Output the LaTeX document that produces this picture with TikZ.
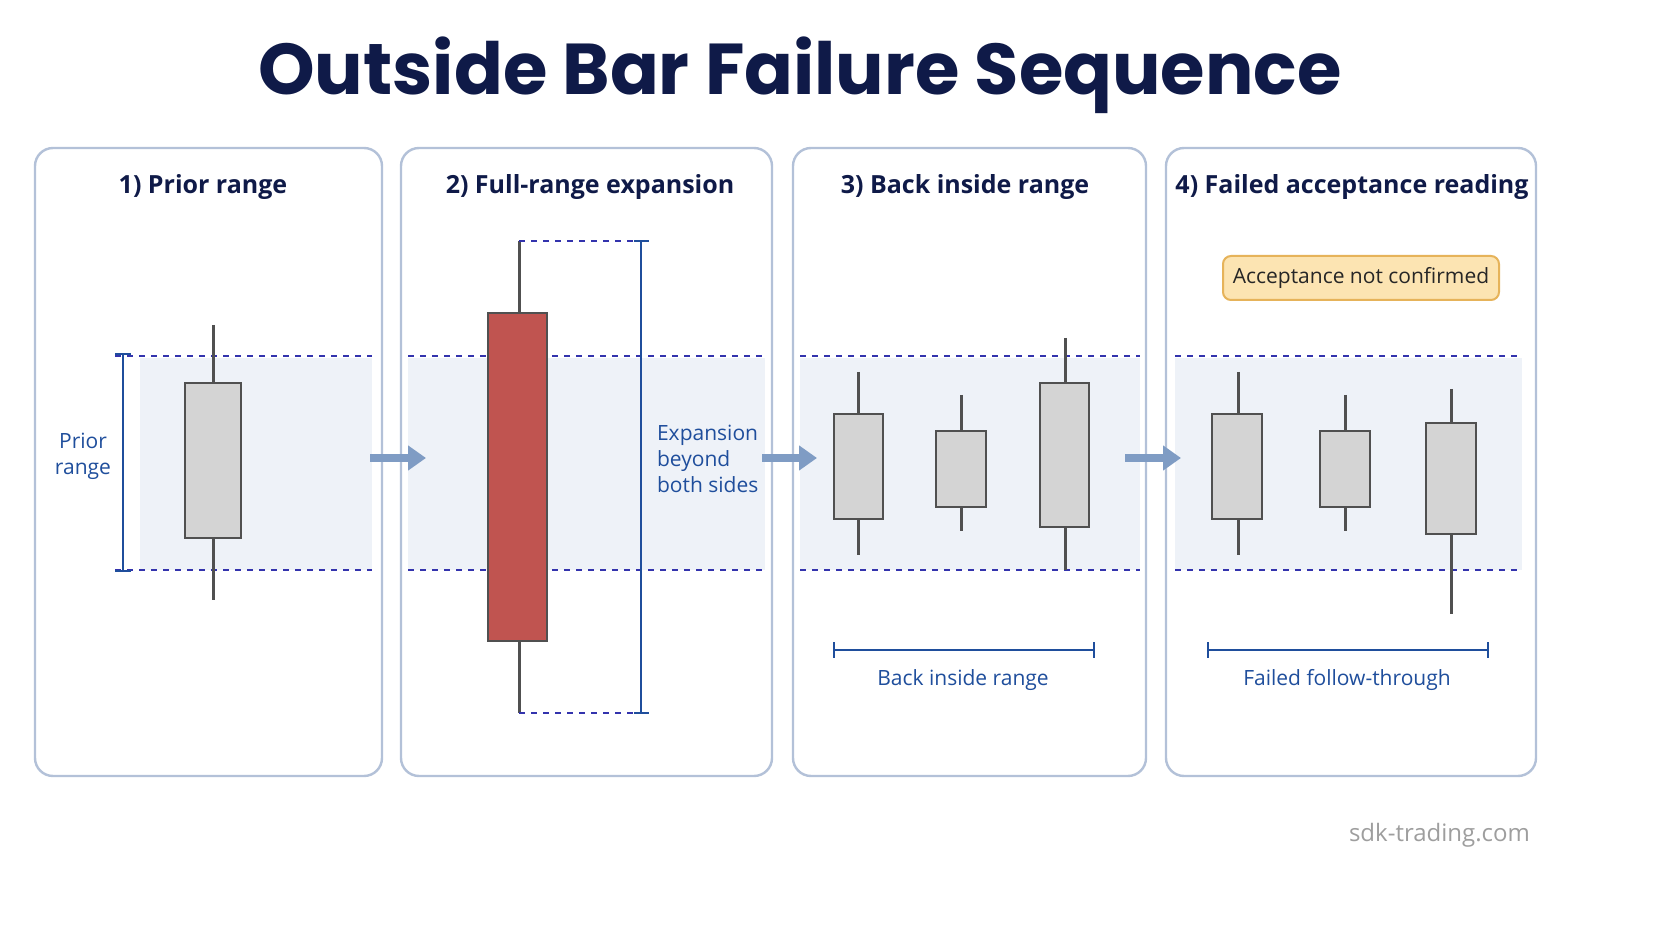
\documentclass[tikz,border=0pt]{standalone}
\usepackage{fontspec}
\setmainfont{Open Sans}
\newfontfamily\titlefont{Poppins}
\usetikzlibrary{arrows.meta}
\begin{document}
\begin{tikzpicture}[x=0.5pt,y=-0.5pt,
  panel/.style={draw=panelc,line width=1.2pt,rounded corners=9pt,fill=white},
  ptitle/.style={font=\fontsize{12.5}{15}\selectfont\bfseries,text=navy},
  band/.style={fill=bandc,draw=none},
  dline/.style={draw=blue!60!black!80,dashed,line width=0.7pt},
  wick/.style={draw=wickc,line width=1.5pt},
  body/.style={draw=wickc,line width=1.2pt,fill=grayc},
  brk/.style={draw=bluec,line width=1.4pt},
  lbl/.style={text=bluec,font=\fontsize{10.5}{13}\selectfont},
  flow/.style={draw=arrc,line width=4pt,-{Triangle[length=9pt,width=12pt]}}]
\definecolor{panelc}{HTML}{B3C1D8}
\definecolor{navy}{HTML}{0F1A48}
\definecolor{bandc}{HTML}{EEF2F8}
\definecolor{wickc}{HTML}{505050}
\definecolor{grayc}{HTML}{D4D4D4}
\definecolor{bluec}{HTML}{1F4E9C}
\definecolor{arrc}{HTML}{7F9CC4}
\definecolor{redc}{HTML}{C05450}
\definecolor{badgef}{HTML}{FCE4B2}
\definecolor{badged}{HTML}{E6B35A}
\useasboundingbox[fill=white] (0,0) rectangle (1672,941);
\node[font=\titlefont\fontsize{36}{40}\selectfont\bfseries,text=navy] (title) at (800,75) {Outside Bar Failure Sequence};
% panels
\draw[panel] (35,148) rectangle (382,776);
\draw[panel] (401,148) rectangle (772,776);
\draw[panel] (793,148) rectangle (1146,776);
\draw[panel] (1166,148) rectangle (1536,776);
\node[ptitle] (t1) at (203,187) {1) Prior range};
\node[ptitle] (t2) at (590,187) {2) Full-range expansion};
\node[ptitle] (t3) at (965,187) {3) Back inside range};
\node[ptitle] (t4) at (1352,187) {4) Failed acceptance reading};
% bands
\fill[band] (140,358) rectangle (372,570);
\fill[band] (408,358) rectangle (765,570);
\fill[band] (800,358) rectangle (1140,570);
\fill[band] (1175,358) rectangle (1522,570);
\foreach \a/\b in {115/372,408/765,800/1140,1175/1522}{
  \draw[dline] (\a,356) -- (\b,356); \draw[dline] (\a,570) -- (\b,570);}
% panel 1
\draw[brk] (123,354) -- (123,571) (115,354) -- (131,354) (115,571) -- (131,571);
\node[lbl,align=center] (l1) at (83,456) {Prior\\range};
\draw[wick] (213,325) -- (213,600);
\draw[body] (185,383) rectangle (241,538);
% panel 2
\draw[wick] (519,241) -- (519,713);
\draw[body,fill=redc] (488,313) rectangle (547,641);
\draw[dline] (519,241) -- (641,241) (519,713) -- (641,713);
\draw[brk] (641,241) -- (641,713) (634,241) -- (649,241) (634,713) -- (649,713);
\node[lbl,align=left,anchor=west] (l2) at (650,459) {Expansion\\beyond\\both sides};
% panel 3
\draw[wick] (858,372) -- (858,555); \draw[body] (834,414) rectangle (883,519);
\draw[wick] (961,395) -- (961,531); \draw[body] (936,431) rectangle (986,507);
\draw[wick] (1065,338) -- (1065,570); \draw[body] (1040,383) rectangle (1089,527);
\draw[brk] (834,650) -- (1094,650) (834,642) -- (834,658) (1094,642) -- (1094,658);
\node[lbl] (l3) at (963,680) {Back inside range};
% panel 4
\node[draw=badged,line width=1pt,fill=badgef,rounded corners=4pt,minimum width=138pt,minimum height=22pt,font=\fontsize{10.5}{13}\selectfont,text=black!85] (badge) at (1361,278) {Acceptance not confirmed};
\draw[wick] (1238,372) -- (1238,555); \draw[body] (1212,414) rectangle (1262,519);
\draw[wick] (1345,395) -- (1345,531); \draw[body] (1320,431) rectangle (1370,507);
\draw[wick] (1451,389) -- (1451,614); \draw[body] (1426,423) rectangle (1476,534);
\draw[brk] (1208,650) -- (1488,650) (1208,642) -- (1208,658) (1488,642) -- (1488,658);
\node[lbl] (l4) at (1347,680) {Failed follow-through};
% flow arrows
\coordinate (a1) at (370,458); \coordinate (b1) at (426,458);
\coordinate (a2) at (762,458); \coordinate (b2) at (817,458);
\coordinate (a3) at (1125,458); \coordinate (b3) at (1181,458);
\draw[flow] (a1) -- (b1); \draw[flow] (a2) -- (b2); \draw[flow] (a3) -- (b3);
\node[anchor=east,text=black!38,font=\fontsize{12}{14}\selectfont] (foot) at (1537,835) {sdk-trading.com};
\end{tikzpicture}
\end{document}
